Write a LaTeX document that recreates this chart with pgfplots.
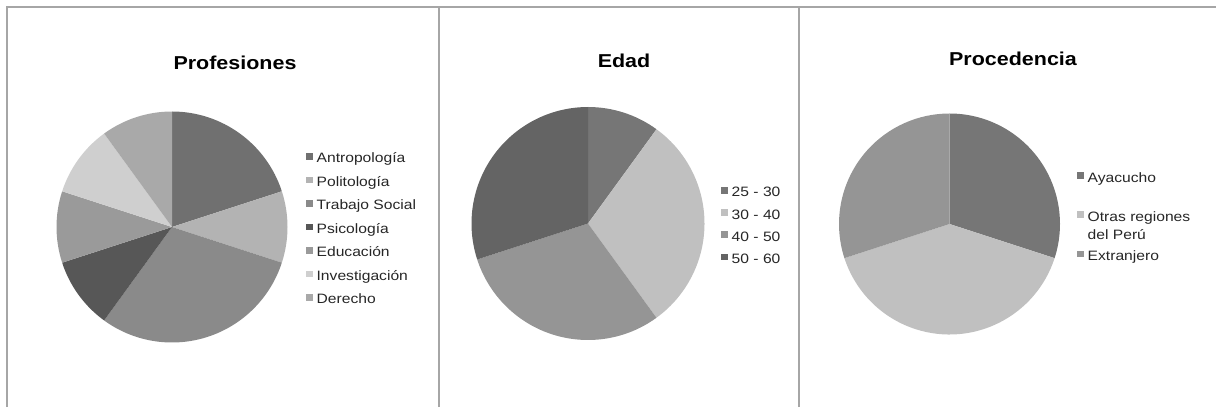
\documentclass[border=0pt]{standalone}
\usepackage{pgfplots}
\usepackage{pgfplotstable}
\pgfplotsset{compat=1.18}
\usepackage{fontspec}
\setmainfont{Liberation Sans}[FakeStretch=1.15]

% slice colours (grey scale)
\definecolor{antro}{HTML}{707070}
\definecolor{polit}{HTML}{B3B3B3}
\definecolor{trabajo}{HTML}{8A8A8A}
\definecolor{psico}{HTML}{575757}
\definecolor{educ}{HTML}{9A9A9A}
\definecolor{invest}{HTML}{CFCFCF}
\definecolor{derecho}{HTML}{A9A9A9}
\definecolor{edA}{HTML}{767676}
\definecolor{edB}{HTML}{C0C0C0}
\definecolor{edC}{HTML}{959595}
\definecolor{edD}{HTML}{646464}
\definecolor{framegray}{HTML}{A6A6A6}

% shares in percent, clockwise from 12 o'clock
\pgfplotstableread{
value color
20 antro
10 polit
30 trabajo
10 psico
10 educ
10 invest
10 derecho
}\profesiones

\pgfplotstableread{
value color
10 edA
30 edB
30 edC
30 edD
}\edad

\pgfplotstableread{
value color
30 edA
40 edB
30 edC
}\procedencia

% #1 table, #2 radius of the pie
\newcommand\pieslices[2]{%
  \pgfplotstablegetrowsof{#1}%
  \pgfmathtruncatemacro\lastrow{\pgfplotsretval-1}%
  \def\cum{0}%
  \pgfplotsforeachungrouped \i in {0,...,\lastrow}{%
    \pgfplotstablegetelem{\i}{value}\of{#1}\let\sliceval\pgfplotsretval
    \pgfplotstablegetelem{\i}{color}\of{#1}\let\slicecol\pgfplotsretval
    \pgfmathsetmacro\angA{90-3.6*\cum}%
    \pgfmathsetmacro\angB{90-3.6*(\cum+\sliceval)}%
    \edef\cmd{%
      \noexpand\fill[\slicecol] (axis cs:0,0) -- (axis cs:{cos(\angA)},{sin(\angA)})
        arc[start angle=\angA, end angle=\angB, radius=#2] -- cycle;
      \noexpand\addlegendimage{fill=\slicecol,draw=none}}%
    \cmd
    \pgfmathsetmacro\cum{\cum+\sliceval}%
  }}

\pgfplotsset{
  pieaxis/.style={
    hide axis, scale only axis, clip=false,
    xmin=-1, xmax=1, ymin=-1, ymax=1,
    anchor=center,
    legend image code/.code={\fill[##1] (0pt,2.3pt) rectangle (5pt,7.3pt);},
    legend style={draw=none, fill=none, inner sep=0pt, outer sep=0pt,
      anchor=north west, text=black!85,
      font=\fontsize{10.2}{13.5}\selectfont,
      column sep=3pt,
      cells={anchor=base west},
      nodes={inner sep=0pt, outer sep=0pt, text depth=, execute at begin node=\strut}},
  },
}

\newcommand\twoline[2]{\begin{tabular}[t]{@{}l@{}}#1\\#2\end{tabular}}

\begin{document}
\begin{tikzpicture}[x=0.75pt,y=0.75pt]
\path[use as bounding box] (0,0) rectangle (1216,407);

% frame
\draw[framegray, line width=1.1pt] (7,0) -- (7,400) -- (1216,400);
\draw[framegray, line width=1.1pt] (439,0) -- (439,400);
\draw[framegray, line width=1.1pt] (799,0) -- (799,400);

% titles
\node[anchor=base, font=\fontsize{14}{16}\selectfont\bfseries] at (235,337) {Profesiones};
\node[anchor=base, font=\fontsize{14}{16}\selectfont\bfseries] at (624,339.3) {Edad};
\node[anchor=base, font=\fontsize{14}{16}\selectfont\bfseries] at (1013,341.3) {Procedencia};

\begin{axis}[pieaxis, at={(129pt,135pt)}, width=173.25pt, height=173.25pt,
  legend style={at={(1.08,0.832)}, row sep=4.1pt}]
  \pieslices{\profesiones}{86.625pt}
  \legend{Antropología, Politología, Trabajo Social, Psicología, Educación, Investigación, Derecho}
\end{axis}

\begin{axis}[pieaxis, at={(441pt,137.625pt)}, width=174.75pt, height=174.75pt,
  legend style={at={(1.071,0.668)}, row sep=3.1pt}]
  \pieslices{\edad}{87.375pt}
  \legend{25 - 30, 30 - 40, 40 - 50, 50 - 60}
\end{axis}

\begin{axis}[pieaxis, at={(712.125pt,137.25pt)}, width=165.75pt, height=165.75pt,
  legend style={at={(1.077,0.747)}, row sep=2.4pt}]
  \pieslices{\procedencia}{82.875pt}
  \legend{{\twoline{Ayacucho}{\mbox{}}}, {\twoline{Otras regiones}{del Perú}}, Extranjero}
\end{axis}
\end{tikzpicture}
\end{document}
